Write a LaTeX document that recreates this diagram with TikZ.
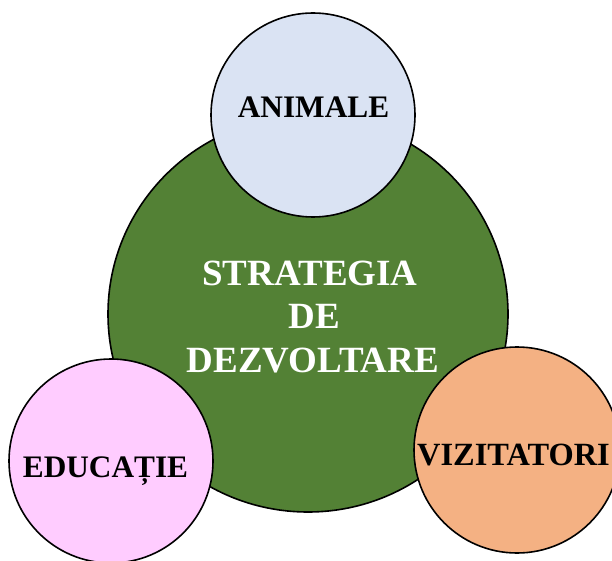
\documentclass[tikz,border=0pt]{standalone}
\usepackage{fontspec}
\setmainfont{Liberation Serif}
\definecolor{cgreen}{HTML}{538135}
\definecolor{cblue}{HTML}{DAE3F3}
\definecolor{cpink}{HTML}{FFCCFF}
\definecolor{corange}{HTML}{F4B183}
\tikzset{
  blob/.style={draw=black, line width=1.6pt},
  bigtxt/.style={text=white, inner sep=0pt, anchor=base, font=\fontsize{37}{43.5}\selectfont\bfseries},
  smalltxt/.style={text=black, inner sep=0pt, anchor=base, font=\fontsize{31.3}{37}\selectfont\bfseries}
}
\begin{document}
\begin{tikzpicture}[x=1pt,y=-1pt]
\useasboundingbox (0,0) rectangle (612,561);
\clip (0,0) rectangle (612,561);
% central shape
\draw[blob, fill=cgreen] (308,314) ellipse [x radius=200, y radius=198];
\node[bigtxt] (t1) at (310,285) {STRATEGIA};
\node[bigtxt] (t2) at (314,328) {DE};
\node[bigtxt] (t3) at (313,372) {DEZVOLTARE};
% satellites
\draw[blob, fill=cblue] (313,115) circle [radius=102];
\node[smalltxt] (a) at (313.5,118) {ANIMALE};
\draw[blob, fill=cpink] (111,461) circle [radius=102];
\node[smalltxt] (e) at (105.5,477) {EDUCAȚIE};
\draw[blob, fill=corange] (517,450) circle [radius=103];
\node[smalltxt, font=\fontsize{32.4}{37}\selectfont\bfseries] (v) at (513.5,465) {VIZITATORI};
\end{tikzpicture}
\end{document}
